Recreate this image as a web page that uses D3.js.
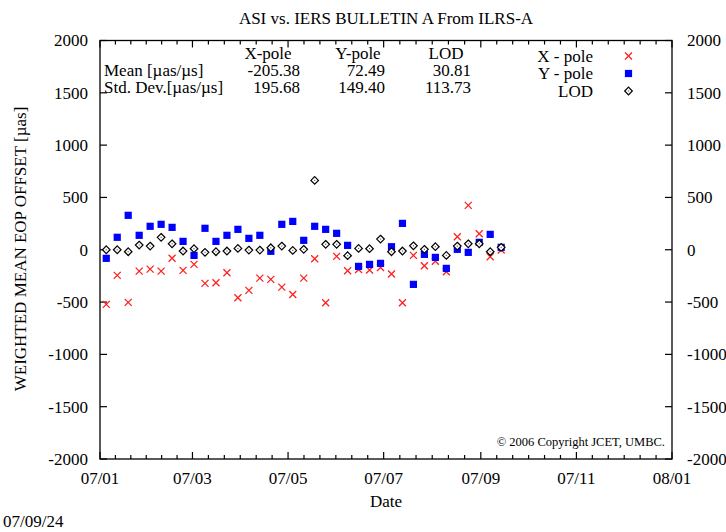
<!DOCTYPE html>
<html><head><meta charset="utf-8">
<script src="https://cdn.jsdelivr.net/npm/d3@7"></script>
<style>
html,body{margin:0;padding:0;background:#fff;}
svg{display:block;font-family:"Liberation Serif","Times New Roman",serif;}
</style></head>
<body><svg id="c" width="726" height="532"></svg>
<script>
const dates = ["2007-01-05","2007-01-12","2007-01-19","2007-01-26","2007-02-02","2007-02-09","2007-02-16","2007-02-23",
"2007-03-02","2007-03-09","2007-03-16","2007-03-23","2007-03-30","2007-04-06","2007-04-13","2007-04-20","2007-04-27",
"2007-05-04","2007-05-11","2007-05-18","2007-05-25","2007-06-01","2007-06-08","2007-06-15","2007-06-22","2007-06-29",
"2007-07-06","2007-07-13","2007-07-20","2007-07-27","2007-08-03","2007-08-10","2007-08-17","2007-08-24","2007-08-31",
"2007-09-07","2007-09-14"];
const xPole = [-522,-245,-503,-204,-185,-204,-82,-197,-140,-321,-315,-220,-459,-388,-271,-283,-357,-427,-271,-86,-507,-63,-201,-188,-194,-170,-232,-507,-54,-153,-110,-210,124,424,153,-67,-3];
const yPole = [-82,119,329,138,224,243,214,80,-54,205,80,138,195,109,138,-15,243,271,90,224,195,157,42,-159,-140,-130,29,252,-331,-44,-73,-178,4,-25,71,147,23];
const lod = [0,0,-19,45,35,119,57,-12,10,-25,-19,-12,13,-3,-3,19,35,-6,4,663,52,52,-57,13,10,102,-19,-12,38,4,29,-54,35,57,57,-19,23];
const yTicks = [-2000,-1500,-1000,-500,0,500,1000,1500,2000];
const statCols = ["X-pole","Y-pole","LOD"];
const statRows = ["Mean [\u00b5as/\u00b5s]","Std. Dev.[\u00b5as/\u00b5s]"];
const statMean = ["-205.38","72.49","30.81"];
const statStd = ["195.68","149.40","113.73"];
const legendLabels = ["X - pole","Y - pole","LOD"];

const svg = d3.select("#c");
const L=100,R=672,T=40.5,B=459;
const parse = d3.utcParse("%Y-%m-%d");
const x = d3.scaleUtc().domain([new Date(Date.UTC(2007,0,1)), new Date(Date.UTC(2008,0,1))]).range([L,R]);
const y = d3.scaleLinear().domain([-2000,2000]).range([B,T]);

// frame
svg.append("rect").attr("x",L).attr("y",T).attr("width",R-L).attr("height",B-T)
  .attr("fill","none").attr("stroke","#000").attr("stroke-width",1.3);

// y ticks both sides inward
const g = svg.append("g").attr("stroke","#000").attr("stroke-width",1.2);
yTicks.forEach(v=>{
  g.append("line").attr("x1",L).attr("x2",L+7).attr("y1",y(v)).attr("y2",y(v));
  g.append("line").attr("x1",R).attr("x2",R-7).attr("y1",y(v)).attr("y2",y(v));
});
// x ticks
const major = x.ticks(d3.utcMonth.every(2));
major.forEach((d,i)=>{
  const px = x(d);
  g.append("line").attr("x1",px).attr("x2",px).attr("y1",B).attr("y2",B-7);
  g.append("line").attr("x1",px).attr("x2",px).attr("y1",T).attr("y2",T+7);
  if(i<major.length-1){
    const nx = x(major[i+1]);
    for(let k=1;k<6;k++){
      const mx = px+(nx-px)*k/6;
      g.append("line").attr("x1",mx).attr("x2",mx).attr("y1",B).attr("y2",B-4);
      g.append("line").attr("x1",mx).attr("x2",mx).attr("y1",T).attr("y2",T+4);
    }
  }
});

const fs = 17;
// y tick labels
yTicks.forEach(v=>{
  svg.append("text").attr("x",88).attr("y",y(v)).attr("dy","0.35em").attr("text-anchor","end")
    .attr("font-size",fs).text(v);
  svg.append("text").attr("x",687).attr("y",y(v)).attr("dy","0.35em").attr("text-anchor","start")
    .attr("font-size",fs).text(v);
});
const fmt = d3.utcFormat("%y/%m");
major.forEach(d=>{
  svg.append("text").attr("x",x(d)).attr("y",484).attr("text-anchor","middle").attr("font-size",fs).text(fmt(d));
});

// titles
svg.append("text").attr("x",(L+R)/2).attr("y",24).attr("text-anchor","middle").attr("font-size",fs)
  .text("ASI vs. IERS BULLETIN A From ILRS-A");
svg.append("text").attr("x",(L+R)/2).attr("y",507).attr("text-anchor","middle").attr("font-size",fs).text("Date");
svg.append("text").attr("x",3).attr("y",527).attr("font-size",fs).text("07/09/24");
svg.append("text").attr("transform","translate(26,249) rotate(-90)").attr("text-anchor","middle")
  .attr("font-size",fs).text("WEIGHTED MEAN EOP OFFSET [\u00b5as]");

// stats table
const colEnd = [300,385,471];
const headX = [268,358,446];
statCols.forEach((c,i)=>{
  svg.append("text").attr("x",headX[i]).attr("y",58.5).attr("text-anchor","middle").attr("font-size",fs).text(c);
  svg.append("text").attr("x",colEnd[i]).attr("y",76).attr("text-anchor","end").attr("font-size",fs).text(statMean[i]);
  svg.append("text").attr("x",colEnd[i]).attr("y",93.3).attr("text-anchor","end").attr("font-size",fs).text(statStd[i]);
});
statRows.forEach((r,i)=>{
  svg.append("text").attr("x",104).attr("y",76+17.3*i).attr("font-size",fs).text(r);
});

// copyright
svg.append("text").attr("x",665).attr("y",446).attr("text-anchor","end").attr("font-size",12.5)
  .text("\u00a9  2006 Copyright JCET, UMBC.");

// markers
const sz = 3.5;
function cross(sel,cx,cy){
  sel.append("path").attr("d",`M${cx-sz},${cy-sz}L${cx+sz},${cy+sz}M${cx-sz},${cy+sz}L${cx+sz},${cy-sz}`)
    .attr("stroke","#ff2020").attr("stroke-width",1.3).attr("fill","none");
}
function square(sel,cx,cy){
  sel.append("rect").attr("x",cx-3.6).attr("y",cy-3.6).attr("width",7.2).attr("height",7.2).attr("fill","#0000ff");
}
function diamond(sel,cx,cy){
  sel.append("path").attr("d",`M${cx},${cy-3.8}L${cx+3.8},${cy}L${cx},${cy+3.8}L${cx-3.8},${cy}Z`)
    .attr("stroke","#000").attr("stroke-width",1.2).attr("fill","#fff");
  sel.append("rect").attr("x",cx-0.6).attr("y",cy-0.6).attr("width",1.2).attr("height",1.2).attr("fill","#666");
}
const pts = svg.append("g");
dates.forEach((d,i)=>cross(pts,x(parse(d)),y(xPole[i])));
dates.forEach((d,i)=>square(pts,x(parse(d)),y(yPole[i])));
dates.forEach((d,i)=>diamond(pts,x(parse(d)),y(lod[i])));

// legend
const legY = [56,73.5,91];
legendLabels.forEach((t,i)=>{
  svg.append("text").attr("x",593).attr("y",legY[i]).attr("dy","0.35em").attr("text-anchor","end").attr("font-size",fs).text(t);
});
cross(svg,628.5,legY[0]);
square(svg,628.5,legY[1]);
diamond(svg,628.5,legY[2]);
</script>
</body></html>
